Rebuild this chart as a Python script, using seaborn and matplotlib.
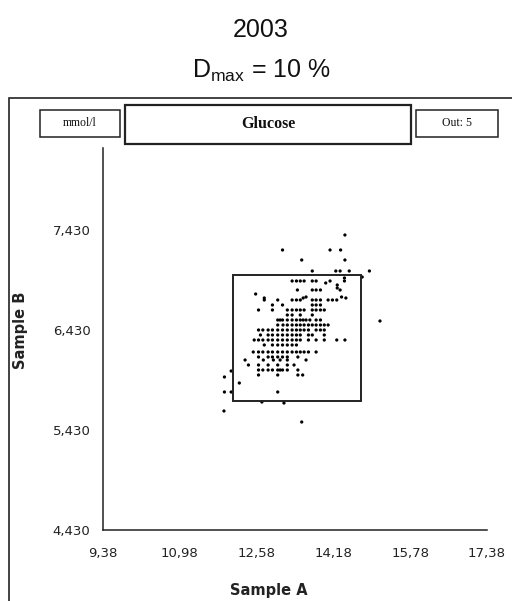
import matplotlib
matplotlib.use("Agg")
import matplotlib.pyplot as plt
from matplotlib.patches import Rectangle
import seaborn as sns
import pandas as pd

# ---- data ----
sample_a = [
    # outliers / sparse points
    14.42, 13.12, 14.11, 14.33, 13.52, 14.42, 13.74, 14.23, 14.32, 14.51, 14.93, 14.78,
    15.15, 11.91, 12.05, 12.22, 11.91, 12.05, 13.02, 11.90, 12.69, 13.15, 13.52,
    # 6.92 row and around
    13.32, 13.41, 13.49, 13.57, 13.74, 13.82, 14.11, 14.41, 14.02, 14.41,
    14.26, 14.26, 14.32, 13.43, 13.74, 13.82, 13.91, 12.56,
    # 6.73 row
    12.74, 12.74, 13.02, 13.32, 13.41, 13.49, 13.55, 13.61, 13.74, 13.82, 13.91, 14.07, 14.16,
    14.25, 14.35, 14.44,
    # 6.68
    12.91, 13.12, 13.74, 13.82, 13.91,
    # 6.63
    12.62, 12.91, 13.22, 13.32, 13.41, 13.49, 13.57, 13.74, 13.82, 13.91, 13.99,
    # 6.58
    13.22, 13.32, 13.49, 13.74,
    # 6.53
    13.02, 13.07, 13.12, 13.22, 13.32, 13.41, 13.49, 13.55, 13.61, 13.69, 13.82, 13.91,
    # 6.48
    13.02, 13.13, 13.22, 13.32, 13.41, 13.49, 13.57, 13.66, 13.74, 13.82, 13.91, 13.99, 14.07,
    # 6.43
    12.62, 12.71, 12.82, 12.91, 13.02, 13.12, 13.22, 13.32, 13.41, 13.49, 13.57, 13.66, 13.82,
    13.91, 13.99,
    # 6.38
    12.66, 12.82, 12.91, 13.02, 13.12, 13.22, 13.32, 13.41, 13.49, 13.66, 13.74, 13.99,
    # 6.33
    12.53, 12.62, 12.71, 12.82, 12.91, 13.02, 13.12, 13.22, 13.32, 13.41, 13.49, 13.66, 13.82,
    13.99, 14.25, 14.42,
    # 6.28
    12.74, 12.91, 13.02, 13.12, 13.22, 13.32, 13.41,
    # 6.21
    12.51, 12.62, 12.71, 12.82, 12.91, 13.02, 13.12, 13.22, 13.32, 13.41, 13.49, 13.57, 13.66,
    13.82,
    # 6.16
    12.62, 12.82, 12.91, 13.02, 13.12, 13.22, 13.44,
    # 6.13
    12.34, 12.72, 12.93, 13.07, 13.22, 13.61,
    # 6.08
    12.41, 12.62, 12.82, 13.02, 13.22, 13.36,
    # 6.03
    12.62, 12.71, 12.82, 12.91, 13.02, 13.07, 13.12, 13.22, 13.44,
    # 5.98
    12.62, 13.02, 13.44, 13.54,
]
sample_b = [
    7.38, 7.23, 7.23, 7.23, 7.13, 7.13, 7.02, 7.02, 7.02, 7.02, 7.02, 6.96,
    6.52, 5.96, 6.02, 5.90, 5.81, 5.81, 5.81, 5.62, 5.71, 5.70, 5.51,
    6.92, 6.92, 6.92, 6.92, 6.92, 6.92, 6.92, 6.92, 6.90, 6.95,
    6.88, 6.85, 6.83, 6.83, 6.83, 6.83, 6.83, 6.79,
    6.73, 6.75, 6.73, 6.73, 6.73, 6.73, 6.75, 6.76, 6.73, 6.73, 6.73, 6.73, 6.73,
    6.73, 6.76, 6.75,
    6.68, 6.68, 6.68, 6.68, 6.68,
    6.63, 6.63, 6.63, 6.63, 6.63, 6.63, 6.63, 6.63, 6.63, 6.63, 6.63,
    6.58, 6.58, 6.58, 6.58,
    6.53, 6.53, 6.53, 6.53, 6.53, 6.53, 6.53, 6.53, 6.53, 6.53, 6.53, 6.53,
    6.48, 6.48, 6.48, 6.48, 6.48, 6.48, 6.48, 6.48, 6.48, 6.48, 6.48, 6.48, 6.48,
    6.43, 6.43, 6.43, 6.43, 6.43, 6.43, 6.43, 6.43, 6.43, 6.43, 6.43, 6.43, 6.43,
    6.43, 6.43,
    6.38, 6.38, 6.38, 6.38, 6.38, 6.38, 6.38, 6.38, 6.38, 6.38, 6.38, 6.38,
    6.33, 6.33, 6.33, 6.33, 6.33, 6.33, 6.33, 6.33, 6.33, 6.33, 6.33, 6.33, 6.33,
    6.33, 6.33, 6.33,
    6.28, 6.28, 6.28, 6.28, 6.28, 6.28, 6.28,
    6.21, 6.21, 6.21, 6.21, 6.21, 6.21, 6.21, 6.21, 6.21, 6.21, 6.21, 6.21, 6.21,
    6.21,
    6.16, 6.16, 6.16, 6.16, 6.16, 6.16, 6.16,
    6.13, 6.13, 6.13, 6.13, 6.13, 6.13,
    6.08, 6.08, 6.08, 6.08, 6.08, 6.08,
    6.03, 6.03, 6.03, 6.03, 6.03, 6.03, 6.03, 6.03, 6.03,
    5.98, 5.98, 5.98, 5.98,
]
x_ticks = [9.38, 10.98, 12.58, 14.18, 15.78, 17.38]
x_tick_labels = ["9,38", "10,98", "12,58", "14,18", "15,78", "17,38"]
y_ticks = [4.43, 5.43, 6.43, 7.43]
y_tick_labels = ["4,430", "5,430", "6,430", "7,430"]
target_a = 13.42
target_b = 6.35
d_max = 0.10
title_year = "2003"
title_dmax = r"D$_{\mathrm{max}}$ = 10 %"
unit_text = "mmol/l"
analyte_text = "Glucose"
out_text = "Out: 5"

df = pd.DataFrame({"Sample A": sample_a, "Sample B": sample_b})

sns.set_style("white")
plt.rcParams["font.family"] = ["DejaVu Sans"]
plt.rcParams["mathtext.fontset"] = "custom"
plt.rcParams["mathtext.rm"] = "Liberation Sans"
plt.rcParams["mathtext.it"] = "Liberation Sans"

W, H = 512, 601
fig = plt.figure(figsize=(W / 100, H / 100), dpi=100)
fig.patch.set_facecolor("white")


def fx(px):
    return px / W


def fy(py):
    return 1 - py / H


ax = fig.add_axes([fx(103), fy(530), (487 - 103) / W, (530 - 148) / H])
ax.set_facecolor("white")
sns.scatterplot(data=df, x="Sample A", y="Sample B", ax=ax, marker="o", s=5.5,
                color="black", edgecolor="none", linewidth=0, legend=False)

ax.add_patch(Rectangle((target_a * (1 - d_max), target_b * (1 - d_max)),
                       target_a * 2 * d_max, target_b * 2 * d_max,
                       fill=False, edgecolor="#222222", linewidth=1.4, zorder=3))

ax.set_xlim(9.38, 17.38)
ax.set_ylim(4.43, 8.25)
ax.set_xticks(x_ticks)
ax.set_xticklabels(x_tick_labels)
ax.set_yticks(y_ticks)
ax.set_yticklabels(y_tick_labels)
for side in ["top", "right"]:
    ax.spines[side].set_visible(False)
for side in ["left", "bottom"]:
    ax.spines[side].set_linewidth(1.1)
    ax.spines[side].set_color("#222222")
ax.tick_params(axis="both", direction="inout", length=6, width=1, color="#222222",
               labelsize=9.5, labelcolor="#222222")
ax.tick_params(axis="x", pad=9)
ax.tick_params(axis="y", pad=6)
ax.set_xlabel("")
ax.set_ylabel("")

# axis titles
fig.text(fx(269), fy(591), "Sample A", ha="center", va="center", fontsize=10.5,
         fontweight="bold", color="#222222")
fig.text(fx(21), fy(330), "Sample B", ha="center", va="center", fontsize=10.5,
         fontweight="bold", rotation=90, color="#222222")

# titles
fig.text(fx(261), fy(30), title_year, ha="center", va="center", fontsize=18,
         family="Liberation Sans", color="#111111")
fig.text(fx(261), fy(71), title_dmax, ha="center", va="center", fontsize=18,
         family="Liberation Sans", color="#111111")

# outer frame
fig.add_artist(Rectangle((fx(9), fy(620)), fx(520) - fx(9), fy(98) - fy(620),
                         transform=fig.transFigure, fill=False,
                         edgecolor="#222222", linewidth=1.2))

# header boxes
def header_box(x0, x1, y0, y1, text, size, weight, lw):
    fig.add_artist(Rectangle((fx(x0), fy(y1)), fx(x1) - fx(x0), fy(y0) - fy(y1),
                             transform=fig.transFigure, fill=False,
                             edgecolor="#222222", linewidth=lw))
    fig.text(fx((x0 + x1) / 2), fy((y0 + y1) / 2), text, ha="center", va="center",
             fontsize=size, fontweight=weight, family="Liberation Serif",
             color="#111111")


header_box(40, 120, 110, 137, unit_text, 8.5, "normal", 1.1)
header_box(125, 411, 105, 144, analyte_text, 11.5, "bold", 1.6)
header_box(416, 498, 110, 137, out_text, 8.5, "normal", 1.1)

fig.savefig("out.png", dpi=100, facecolor="white")
